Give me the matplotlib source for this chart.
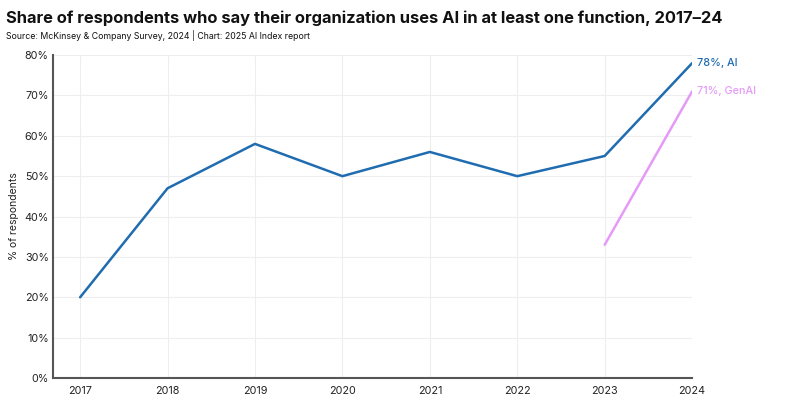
import matplotlib
matplotlib.use("Agg")
import matplotlib.pyplot as plt
from matplotlib.ticker import FuncFormatter

plt.rcParams['font.family'] = ['Inter', 'DejaVu Sans']

years = [2017, 2018, 2019, 2020, 2021, 2022, 2023, 2024]
ai_values = [20, 47, 58, 50, 56, 50, 55, 78]
genai_years = [2023, 2024]
genai_values = [33, 71]
yticks = [0, 10, 20, 30, 40, 50, 60, 70, 80]

ai_color = '#1f6cb0'
genai_color = '#e59af7'

fig = plt.figure(figsize=(7.88, 4.05), dpi=100)
ax = fig.add_axes([0.0673, 0.0667, 0.8110, 0.7973])

ax.plot(years, ai_values, color=ai_color, lw=1.8, solid_capstyle='round')
ax.plot(genai_years, genai_values, color=genai_color, lw=1.8, solid_capstyle='round')

ax.text(years[-1] + 0.06, ai_values[-1], f"{ai_values[-1]}%, AI", color=ai_color,
        fontsize=7.8, va='center', ha='left', fontweight='medium')
ax.text(genai_years[-1] + 0.06, genai_values[-1], f"{genai_values[-1]}%, GenAI", color=genai_color,
        fontsize=7.8, va='center', ha='left', fontweight='medium')

ax.set_xlim(2016.69, 2024)
ax.set_ylim(0, 80)
ax.set_xticks(years)
ax.set_xticklabels([str(y) for y in years])
ax.set_yticks(yticks)
ax.yaxis.set_major_formatter(FuncFormatter(lambda v, p: f"{int(v)}%"))
ax.tick_params(length=0, labelsize=7.8, colors='#222222', pad=3)
ax.tick_params(axis='x', pad=6)
ax.grid(True, color='#eeeeee', lw=0.8)
ax.set_axisbelow(True)
for s in ['top', 'right']:
    ax.spines[s].set_visible(False)
for s in ['left', 'bottom']:
    ax.spines[s].set_color('#555555')
    ax.spines[s].set_linewidth(1.5)
ax.set_ylabel('% of respondents', fontsize=7.5, color='#222222', labelpad=4)

fig.text(0.0076, 0.975, 'Share of respondents who say their organization uses AI in at least one function, 2017–24',
         fontsize=11.9, fontweight='bold', va='top', ha='left', color='#111111')
fig.text(0.0076, 0.925, 'Source: McKinsey & Company Survey, 2024 | Chart: 2025 AI Index report',
         fontsize=6.3, va='top', ha='left', color='#111111')

fig.savefig('out.png', dpi=100)
